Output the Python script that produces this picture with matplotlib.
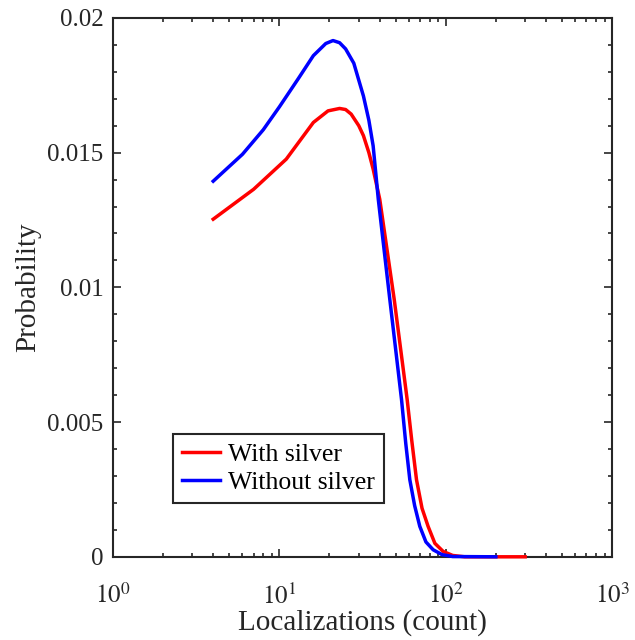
import matplotlib
matplotlib.use("Agg")
import matplotlib.pyplot as plt
from matplotlib.ticker import LogLocator, MultipleLocator, FixedLocator

x_with = [4, 7, 11, 16, 19.6, 23, 25, 27, 30, 32, 34.5, 36.6, 40.1, 49, 58.6,
          62.5, 66.7, 72, 78.3, 86, 96.4, 110, 130, 300]
p_with = [0.01253, 0.01364, 0.01476, 0.01612, 0.01655, 0.01664, 0.0166, 0.01643,
          0.016, 0.01563, 0.015, 0.01439, 0.01327, 0.00955, 0.00584, 0.0043,
          0.00286, 0.0018, 0.00113, 0.0005, 0.0002, 0.00005, 0.0, 0.0]

x_without = [4, 6, 8, 10, 13, 16, 19, 21, 23, 25, 28, 32, 34.5, 36.6, 39.3, 46.1,
             54.2, 57.5, 60.8, 65, 69.8, 76, 84, 95, 110, 200]
p_without = [0.01394, 0.01494, 0.01585, 0.0167, 0.01775, 0.0186, 0.01905, 0.01916,
             0.01908, 0.01885, 0.01832, 0.0171, 0.0162, 0.01525, 0.01327, 0.00955,
             0.00584, 0.0042, 0.00286, 0.0019, 0.00113, 0.00055, 0.00026, 0.00008,
             0.00001, 0.0]

y_ticks = [0, 0.005, 0.01, 0.015, 0.02]
y_ticklabels = ['0', '0.005', '0.01', '0.015', '0.02']
x_ticks = [1, 10, 100, 1000]
x_ticklabels = [r'$10^{0}$', r'$10^{1}$', r'$10^{2}$', r'$10^{3}$']

plt.rcParams['font.family'] = ['Liberation Serif', 'DejaVu Serif']
plt.rcParams['mathtext.fontset'] = 'stix'

fig = plt.figure(figsize=(6.35, 6.4), dpi=100)
ax = fig.add_axes([0.178, 0.130, 0.786, 0.842])

ax.plot(x_with, p_with, color='#ff0000', lw=2.5, label='With silver',
        clip_on=False, zorder=3)
ax.plot(x_without, p_without, color='#0000ff', lw=2.5, label='Without silver',
        clip_on=False, zorder=4)

ax.set_xscale('log')
ax.set_xlim(1, 1000)
ax.set_ylim(0, 0.02)
ax.set_yticks(y_ticks)
ax.set_yticklabels(y_ticklabels)
ax.yaxis.set_minor_locator(MultipleLocator(0.001))
ax.xaxis.set_major_locator(FixedLocator(x_ticks))
ax.set_xticklabels(x_ticklabels)
ax.xaxis.set_minor_locator(LogLocator(base=10, subs=range(2, 10)))

ax.tick_params(which='both', direction='in', top=True, right=True,
               labelsize=18, colors='#262626', labelcolor='#262626', width=1.2)
ax.tick_params(which='major', length=6)
ax.tick_params(which='minor', length=3)
ax.tick_params(axis='y', which='major', pad=7)
ax.tick_params(axis='x', which='major', pad=19)
for s in ax.spines.values():
    s.set_linewidth(1.5)
    s.set_color('#262626')

ax.set_xlabel('Localizations (count)', fontsize=21, color='#262626', labelpad=0)
ax.set_ylabel('Probability', fontsize=21, color='#262626', labelpad=4)

leg = ax.legend(loc='lower left', bbox_to_anchor=(0.12, 0.1), fontsize=18.5,
                fancybox=False, framealpha=1, edgecolor='#262626',
                handlelength=1.5, handletextpad=0.3, borderpad=0.35,
                labelspacing=0.2, borderaxespad=0)
leg.get_frame().set_linewidth(1.5)

fig.savefig('out.png', dpi=100)
